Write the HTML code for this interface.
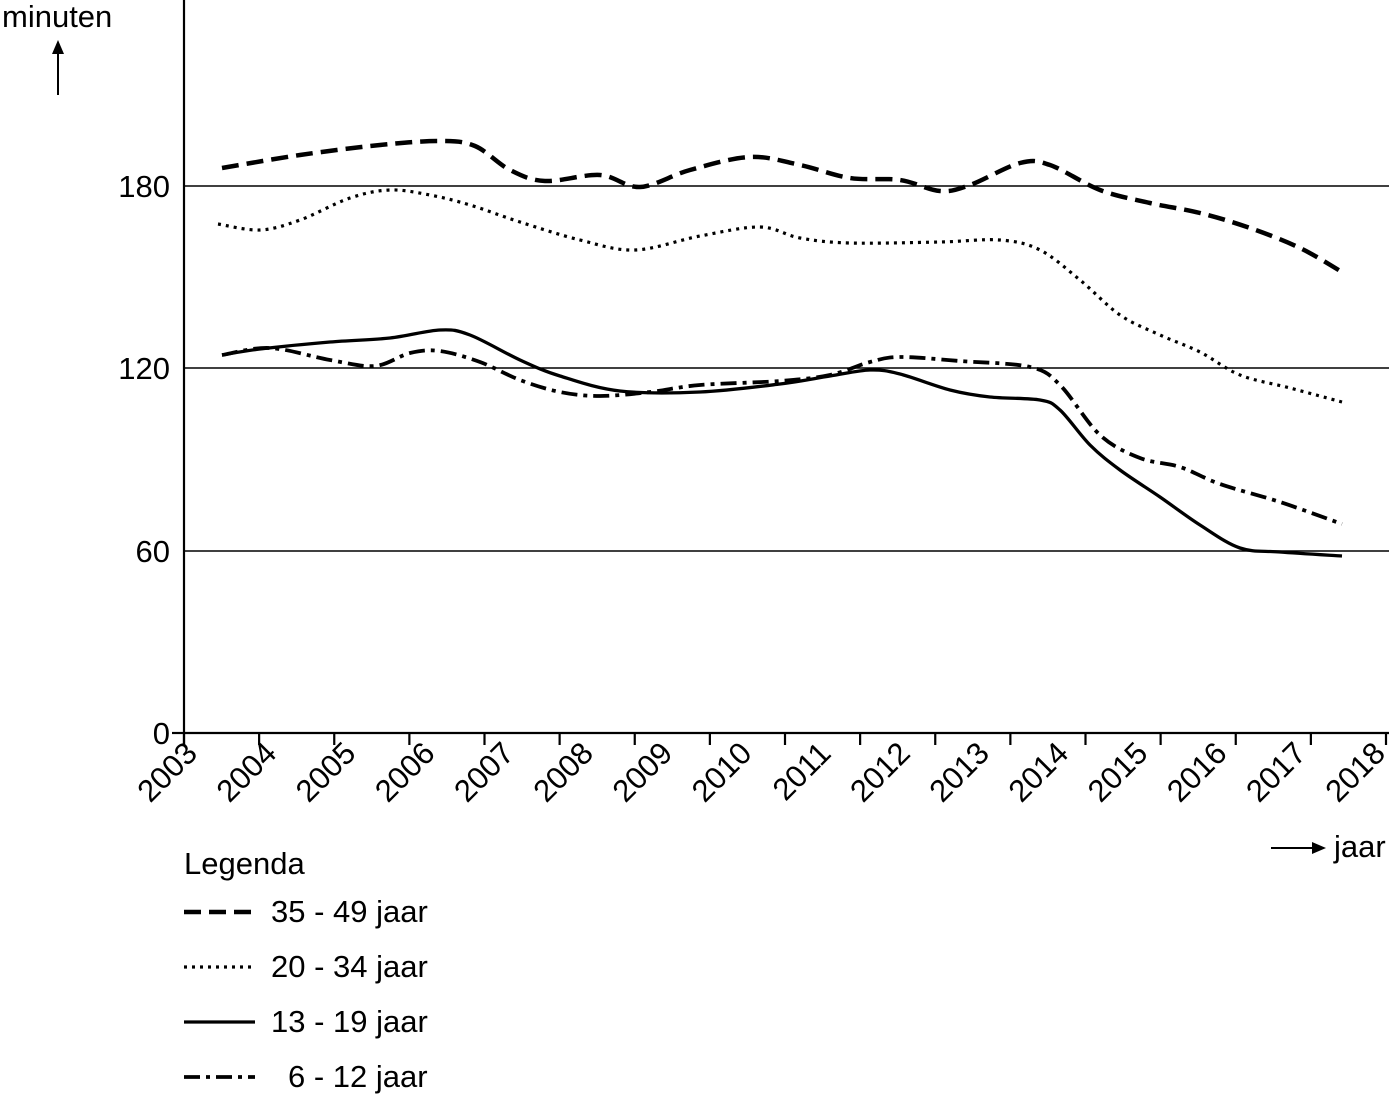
<!DOCTYPE html>
<html><head><meta charset="utf-8"><style>body{margin:0;background:#fff}svg{display:block}text{font-family:"Liberation Sans",sans-serif;fill:#000}</style></head>
<body>
<svg width="1389" height="1100" viewBox="0 0 1389 1100">
<g stroke="#000" stroke-width="1.5">
<line x1="184" y1="186" x2="1389" y2="186"/>
<line x1="184" y1="368" x2="1389" y2="368"/>
<line x1="184" y1="551" x2="1389" y2="551"/>
<line x1="184" y1="733" x2="1389" y2="733" stroke-width="2.2"/>
<line x1="184" y1="0" x2="184" y2="745" stroke-width="2.2"/>
<line x1="172" y1="733" x2="184" y2="733" stroke-width="2.2"/>
</g>
<g stroke="#000" stroke-width="2.2" id="ticks"></g>
<g font-size="31" text-anchor="end">
<text x="170" y="197">180</text><text x="170" y="379">120</text><text x="170" y="562">60</text><text x="170" y="744">0</text>
</g>
<g font-size="31" text-anchor="end" id="xl"></g>
<text x="2" y="27" font-size="31">minuten</text>
<line x1="58" y1="95" x2="58" y2="48" stroke="#000" stroke-width="2"/>
<path d="M52 54 L58 40 L64 54 Z"/>
<text x="1334" y="857" font-size="31">jaar</text>
<line x1="1271" y1="848" x2="1318" y2="848" stroke="#000" stroke-width="2"/>
<path d="M1312 842 L1326 848 L1312 854 Z"/>
<g fill="none" stroke="#000" stroke-linejoin="round">
<path id="p1" stroke-width="4.5" stroke-dasharray="17,8"/>
<path id="p2" stroke-width="3.2" stroke-dasharray="3,5"/>
<path id="p3" stroke-width="3.3"/>
<path id="p4" stroke-width="3.8" stroke-dasharray="16,6,4,6"/>
<line x1="184" y1="912" x2="255" y2="912" stroke-width="4.5" stroke-dasharray="17,8"/>
<line x1="184" y1="967" x2="255" y2="967" stroke-width="3.2" stroke-dasharray="3,5"/>
<line x1="184" y1="1022" x2="255" y2="1022" stroke-width="3.3"/>
<line x1="184" y1="1077" x2="255" y2="1077" stroke-width="3.8" stroke-dasharray="16,6,4,6"/>
</g>
<g font-size="31">
<text x="184" y="874">Legenda</text>
<text x="271" y="922">35 - 49 jaar</text>
<text x="271" y="977">20 - 34 jaar</text>
<text x="271" y="1032">13 - 19 jaar</text>
<text x="288" y="1087">6 - 12 jaar</text>
</g>
</svg>
<script>
const NS="http://www.w3.org/2000/svg";
const t=document.getElementById('ticks'),xl=document.getElementById('xl');
for(let i=0;i<=16;i++){const x=184+i*75.125;const l=document.createElementNS(NS,'line');l.setAttribute('x1',x);l.setAttribute('x2',x);l.setAttribute('y1',733);l.setAttribute('y2',745);t.appendChild(l);}
for(let i=0;i<16;i++){const x=199+i*79.2,y=755;const e=document.createElementNS(NS,'text');e.setAttribute('x',x);e.setAttribute('y',y);e.setAttribute('transform',`rotate(-45 ${x} ${y})`);e.textContent=2003+i;xl.appendChild(e);}
function sm(p){let d=`M${p[0][0]} ${p[0][1]}`;for(let i=0;i<p.length-1;i++){const a=p[i-1]||p[i],b=p[i],c=p[i+1],e=p[i+2]||c;d+=` C${b[0]+(c[0]-a[0])/6} ${b[1]+(c[1]-a[1])/6} ${c[0]-(e[0]-b[0])/6} ${c[1]-(e[1]-b[1])/6} ${c[0]} ${c[1]}`;}return d;}
const D={p1:[[222,168],[300,155],[380,145],[440,141],[475,146],[510,170],[545,181],[600,175],[640,187],[690,170],[750,157],[800,165],[850,178],[900,180],[940,191],[970,185],[1020,163],[1050,165],[1100,190],[1150,203],[1200,213],[1250,228],[1300,248],[1342,272]],
p2:[[218,224],[260,230],[300,220],[350,198],[390,190],[430,195],[470,205],[520,222],[580,240],[635,250],[700,236],[760,227],[800,238],[850,243],[940,242],[1000,240],[1040,250],[1080,280],[1120,315],[1160,335],[1200,352],[1240,375],[1290,388],[1342,402]],
p3:[[222,355],[260,349],[330,342],[390,338],[440,330],[470,335],[520,360],[560,376],[620,391],[700,392],[780,384],[830,376],[870,370],[900,374],[950,390],[990,397],[1040,400],[1060,410],[1090,445],[1120,470],[1160,497],[1200,525],[1240,548],[1280,552],[1342,556]],
p4:[[222,355],[270,348],[330,360],[375,366],[410,353],[440,351],[480,362],[520,380],[560,392],[600,396],[650,392],[700,385],[780,381],[830,375],[870,362],[900,357],[960,361],[1030,367],[1060,385],[1100,435],[1140,458],[1180,467],[1220,484],[1280,502],[1342,524]]};
for(const k in D)document.getElementById(k).setAttribute('d',sm(D[k]));
</script>
</body></html>
